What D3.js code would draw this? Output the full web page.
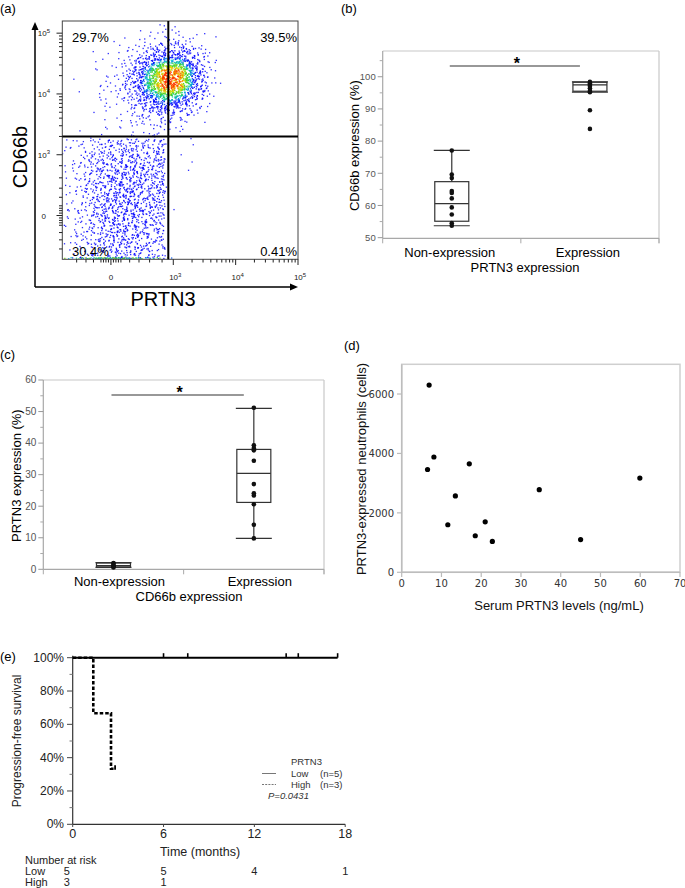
<!DOCTYPE html>
<html><head><meta charset="utf-8">
<script src="https://cdn.jsdelivr.net/npm/d3@7"></script>
<style>html,body{margin:0;padding:0;background:#fff}svg{display:block}</style>
</head><body>
<svg id="chart" width="685" height="888"></svg>
<script>
// ---------------- DATA ----------------
const panelLabels = ["(a)", "(b)", "(c)", "(d)", "(e)"];

// (a) flow cytometry: event counts per 0.25-unit display cell (rows top -> bottom, cols left -> right)
const flowX0 = 1.25, flowYTop = 5.25, flowStep = 0.25;
const flowDensity = [
  [0, 0, 0, 0, 0, 1, 3, 2, 1, 0],
  [0, 0, 0, 1, 3, 8, 15, 14, 5, 1],
  [0, 0, 2, 4, 15, 45, 80, 75, 30, 3],
  [0, 1, 4, 10, 40, 130, 200, 190, 70, 5],
  [0, 2, 5, 12, 45, 140, 210, 190, 65, 4],
  [0, 1, 3, 8, 25, 70, 110, 80, 25, 2],
  [0, 0, 2, 4, 8, 18, 25, 15, 4, 0],
  [0, 2, 3, 4, 6, 8, 7, 2, 0, 0],
  [6, 14, 25, 32, 32, 28, 18, 1, 0, 0],
  [7, 20, 35, 42, 42, 35, 21, 2, 0, 0],
  [7, 21, 38, 49, 49, 38, 21, 1, 0, 0],
  [7, 21, 42, 52, 52, 38, 20, 1, 0, 0],
  [8, 21, 42, 52, 49, 35, 18, 1, 0, 0],
  [7, 20, 38, 49, 45, 32, 15, 0, 0, 0],
  [7, 18, 35, 45, 38, 28, 14, 0, 0, 0],
  [6, 14, 32, 42, 35, 25, 10, 0, 0, 0]
];
const flowFloor = [6, 14, 22, 22, 14, 8, 4, 0, 0, 0];   // events piled on the lower edge
const flowLowerRow = 8;          // first row of the CD66b-negative population
const flowGateX = 2.92, flowGateY = 3.30;
const flowLowerMaxX = 2.87;
const flowTickVals = [2, 3, 4, 5];
const flowTickExp = [null, 3, 4, 5];
const flowNearZeroTicks = [1.45, 1.6, 1.72, 1.84, 1.88, 1.92, 1.96, 2.04, 2.08, 2.12, 2.16, 2.3, 2.45, 2.62, 2.82];
const quadrantLabels = ["29.7%", "39.5%", "30.4%", "0.41%"];

// (b) CD66b expression by PRTN3 expression
const groupsB = ["Non-expression", "Expression"];
const cd66bNonExpr = [77.1, 69.6, 68.5, 64.5, 63.9, 62.2, 59.4, 57.2, 54.5, 53.7];
const cd66bExpr = [98.4, 97.9, 97.5, 97.1, 96.4, 95.6, 95.2, 89.6, 83.8];
const boxStatsB = [[53.7, 55.1, 60.6, 67.4, 77.1], [95.2, 95.5, 97.5, 98.3, 98.4]]; // lo, q1, med, q3, hi
const ticksB = [50, 60, 70, 80, 90, 100];
const minorB = [55, 65, 75, 85, 95, 105];

// (c) PRTN3 expression by CD66b expression
const groupsC = ["Non-expression", "Expression"];
const prtn3NonExpr = [2.0, 1.8, 1.3, 1.0, 0.8, 0.6];
const prtn3Expr = [51.2, 39.3, 38.4, 37.7, 34.4, 27.0, 24.1, 23.4, 20.6, 14.1, 9.8];
const boxStatsC = [[0.6, 0.75, 1.15, 2.0, 2.1], [9.8, 21.2, 30.4, 38.0, 51.0]];
const ticksC = [0, 10, 20, 30, 40, 50, 60];
const minorC = [5, 15, 25, 35, 45, 55];

// (d) serum PRTN3 vs PRTN3-expressed neutrophils
const serumPRTN3 = [6.9, 8.1, 6.5, 17.0, 13.5, 11.6, 21.0, 18.5, 22.8, 34.6, 45.0, 59.9];
const neutroCells = [6300, 3880, 3460, 3650, 2570, 1600, 1700, 1230, 1040, 2780, 1100, 3170];
const ticksDx = [0, 10, 20, 30, 40, 50, 60, 70];
const ticksDy = [0, 2000, 4000, 6000];

// (e) Kaplan-Meier
const kmLowTimes = [0, 17.5];
const kmLowSurv = [1, 1];
const kmLowCensor = [6.0, 7.6, 14.1, 14.9, 17.5];
const kmHighTimes = [0, 1.36, 2.53];
const kmHighSurv = [1, 0.667, 0.333];
const kmHighEnd = 2.8;
const kmHighCensor = [2.8];
const ticksEx = [0, 6, 12, 18];
const ticksEy = [0, 0.2, 0.4, 0.6, 0.8, 1.0];
const minorEy = [0.1, 0.3, 0.5, 0.7, 0.9];
const legendE = ["Low", "High"];
const legendN = ["(n=5)", "(n=3)"];
const pValue = "P=0.0431";
const riskTimes = [0, 6, 12, 18];
const riskLow = [5, 5, 4, 1];
const riskHigh = [3, 1, null, null];

// ---------------- DRAW ----------------
const svg = d3.select("#chart");
svg.append("rect").attr("width", 685).attr("height", 888).attr("fill", "#fff");
const F = "'Liberation Sans', Arial, Helvetica, sans-serif";
const FN = "'Liberation Sans Narrow', 'Arial Narrow', 'Liberation Sans', Arial, sans-serif";
const FD = "'DejaVu Sans', Verdana, sans-serif";

function text(g, x, y, s, o = {}) {
  const t = g.append("text").attr("x", x).attr("y", y).text(s)
    .attr("font-family", o.ff || F).attr("font-size", o.fs || 13)
    .attr("fill", o.fill || "#000").attr("text-anchor", o.anchor || "start");
  if (o.rot) t.attr("transform", `rotate(${o.rot},${x},${y})`);
  if (o.style) t.attr("font-style", o.style);
  if (o.weight) t.attr("font-weight", o.weight);
  return t;
}

// panel labels
const plPos = [[0, 13], [341, 13], [0, 359], [344, 350], [0, 661]];
panelLabels.forEach((l, i) => text(svg, plPos[i][0], plPos[i][1], l, { fs: 13 }));

// ===== (a) =====
(function () {
  const g = svg.append("g");
  const xA = d3.scaleLinear().domain([1.22, 5.0]).range([62.3, 298]);
  const yA = d3.scaleLinear().domain([1.28, 5.2]).range([259.3, 21]);
  g.append("clipPath").attr("id", "clipA").append("rect")
    .attr("x", 62.3).attr("y", 21).attr("width", 298 - 62.3).attr("height", 259.3 - 21);

  const rows = flowDensity.length, cols = flowDensity[0].length;
  function halton(i, b) { let f = 1, r = 0; while (i > 0) { f /= b; r += f * (i % b); i = Math.floor(i / b); } return r; }
  function dens(x, y) {
    const fx = (x - flowX0) / flowStep - 0.5, fy = (flowYTop - y) / flowStep - 0.5;
    const i0 = Math.floor(fx), j0 = Math.floor(fy), tx = fx - i0, ty = fy - j0;
    const gv = (j, i) => (j < 0 || j >= rows || i < 0 || i >= cols) ? 0 : flowDensity[j][i];
    return (1 - ty) * ((1 - tx) * gv(j0, i0) + tx * gv(j0, i0 + 1)) + ty * ((1 - tx) * gv(j0 + 1, i0) + tx * gv(j0 + 1, i0 + 1));
  }
  const pts = [];
  let n = 1;
  flowDensity.forEach((row, r) => row.forEach((cnt, c) => {
    for (let k = 0; k < cnt; k++, n++) {
      // triangular kernel over two cells -> smooth, band-free density
      let x = flowX0 + (c - 0.5 + halton(n, 2) + halton(n, 5)) * flowStep;
      let y = flowYTop - (r - 0.5 + halton(n, 3) + halton(n, 7)) * flowStep;
      if (r >= flowLowerRow && c <= 6) {
        const lim = flowGateY - 0.04;
        if (y > lim) y = 2 * lim - y;
        if (x > flowLowerMaxX) x = 2 * flowLowerMaxX - x;
      }
      pts.push({ x, y, d: dens(x, y) + (halton(n, 11) - 0.5) * 40 });
    }
  }));
  flowFloor.forEach((cnt, c) => {
    for (let k = 0; k < cnt; k++, n++) {
      const x = flowX0 + (c + halton(n, 2)) * flowStep;
      const y = 1.285 + 0.025 * halton(n, 3);
      pts.push({ x, y, d: 90 + halton(n, 5) * 80 });
    }
  });
  pts.sort((a, b) => a.d - b.d);
  const col = d3.scaleLinear().domain([0, 95, 120, 150, 180, 210])
    .range(["#1a1aff", "#0000ff", "#00c8e0", "#30d020", "#f0e000", "#ff2a00"]).clamp(true);
  g.append("g").attr("clip-path", "url(#clipA)").selectAll("rect").data(pts).join("rect")
    .attr("x", d => xA(d.x) - 0.65).attr("y", d => yA(d.y) - 0.65)
    .attr("width", 1.3).attr("height", 1.3)
    .attr("fill", d => col(d.d)).attr("fill-opacity", 0.9);

  // frame
  g.append("rect").attr("x", 62.3).attr("y", 21).attr("width", 298 - 62.3).attr("height", 259.3 - 21)
    .attr("fill", "none").attr("stroke", "#444").attr("stroke-width", 1);
  // gates
  g.append("line").attr("x1", xA(flowGateX)).attr("x2", xA(flowGateX)).attr("y1", 21).attr("y2", 259.3)
    .attr("stroke", "#000").attr("stroke-width", 2);
  g.append("line").attr("x1", 62.3).attr("x2", 298).attr("y1", yA(flowGateY)).attr("y2", yA(flowGateY))
    .attr("stroke", "#000").attr("stroke-width", 2);

  // ticks
  const minor = [];
  [3, 4].forEach(b => { for (let k = 2; k <= 9; k++) minor.push(b + Math.log10(k)); });
  const allMinor = minor.concat(flowNearZeroTicks);
  const tg = g.append("g").attr("stroke", "#222").attr("stroke-width", 1);
  allMinor.filter(v => v >= 1.28 && v <= 5.2).forEach(v => {
    tg.append("line").attr("x1", 59).attr("x2", 62.3).attr("y1", yA(v)).attr("y2", yA(v));
  });
  allMinor.filter(v => v >= 1.22 && v <= 5.0).forEach(v => {
    tg.append("line").attr("y1", 259.3).attr("y2", 262.5).attr("x1", xA(v)).attr("x2", xA(v));
  });
  flowTickVals.forEach(v => {
    tg.append("line").attr("x1", 56.5).attr("x2", 62.3).attr("y1", yA(v)).attr("y2", yA(v));
    tg.append("line").attr("y1", 259.3).attr("y2", 265).attr("x1", xA(v)).attr("x2", xA(v));
  });
  function expLabel(x, y, e, anchor) {
    const t = g.append("text").attr("x", x).attr("y", y).attr("font-family", F)
      .attr("font-size", 8).attr("fill", "#222").attr("text-anchor", anchor);
    if (e === null) { t.text("0"); return; }
    t.append("tspan").text("10");
    t.append("tspan").attr("dy", -3.5).attr("font-size", 6).text(e);
  }
  flowTickVals.forEach((v, i) => {
    expLabel(flowTickExp[i] === null ? 46 : 50, yA(v) + 3, flowTickExp[i], "end");
    expLabel(xA(v) + (flowTickExp[i] === null ? 0 : 2), 280, flowTickExp[i], "middle");
  });

  // quadrant labels
  text(g, 72, 42, quadrantLabels[0], { fs: 13 });
  text(g, 297, 42, quadrantLabels[1], { fs: 13, anchor: "end" });
  text(g, 72, 256, quadrantLabels[2], { fs: 13 });
  text(g, 297, 256, quadrantLabels[3], { fs: 13, anchor: "end" });

  // outer axes with arrows
  g.append("path").attr("d", "M35,287 V28 M35,287 H292").attr("stroke", "#000").attr("stroke-width", 1.5).attr("fill", "none");
  g.append("path").attr("d", "M35,22 L31.5,30 L38.5,30 Z").attr("fill", "#000");
  g.append("path").attr("d", "M298,287 L290,283.5 L290,290.5 Z").attr("fill", "#000");
  text(g, 27, 157, "CD66b", { fs: 20, anchor: "middle", rot: -90 });
  text(g, 163, 306, "PRTN3", { fs: 20, anchor: "middle" });
})();

// ===== box panels (b), (c) =====
function boxPanel(cfg) {
  const g = svg.append("g");
  const x = d3.scaleBand().domain(cfg.groups).range([cfg.x0, cfg.x1]);
  const y = d3.scaleLinear().domain(cfg.domain).range([cfg.y0, cfg.y1]);
  g.append("line").attr("x1", cfg.x0).attr("x2", cfg.x1).attr("y1", cfg.y1).attr("y2", cfg.y1).attr("stroke", "#c8c8c8").attr("stroke-width", 1.2);
  g.append("line").attr("x1", cfg.x1).attr("x2", cfg.x1).attr("y1", cfg.y1).attr("y2", cfg.y0 + 5).attr("stroke", "#c8c8c8").attr("stroke-width", 1.2);
  g.append("line").attr("x1", cfg.x0).attr("x2", cfg.x0).attr("y1", cfg.y1).attr("y2", cfg.y0).attr("stroke", "#a8a8a8").attr("stroke-width", 1.2);
  g.append("line").attr("x1", cfg.x0).attr("x2", cfg.x1).attr("y1", cfg.y0).attr("y2", cfg.y0).attr("stroke", "#a8a8a8").attr("stroke-width", 1.2);
  [cfg.x0, x(cfg.groups[1]), cfg.x1].forEach(v => g.append("line").attr("x1", v).attr("x2", v).attr("y1", cfg.y0).attr("y2", cfg.y0 + 5).attr("stroke", "#a8a8a8"));
  cfg.ticks.forEach(v => {
    g.append("line").attr("x1", cfg.x0 - 5).attr("x2", cfg.x0).attr("y1", y(v)).attr("y2", y(v)).attr("stroke", "#999");
    text(g, cfg.x0 - 7, y(v) + 3.3, v, { fs: cfg.tickFs, fill: "#555", anchor: "end" });
  });
  cfg.minor.forEach(v => g.append("line").attr("x1", cfg.x0 - 3).attr("x2", cfg.x0).attr("y1", y(v)).attr("y2", y(v)).attr("stroke", "#aaa"));
  const bw = 34;
  cfg.stats.forEach((s, i) => {
    const cx = x(cfg.groups[i]) + x.bandwidth() / 2;
    const [lo, q1, med, q3, hi] = s;
    const bg = g.append("g").attr("stroke", "#333").attr("stroke-width", 1.2).attr("fill", "none");
    bg.append("line").attr("x1", cx).attr("x2", cx).attr("y1", y(hi)).attr("y2", y(q3));
    bg.append("line").attr("x1", cx).attr("x2", cx).attr("y1", y(q1)).attr("y2", y(lo));
    bg.append("rect").attr("x", cx - bw / 2).attr("y", y(q3)).attr("width", bw).attr("height", Math.max(0.1, y(q1) - y(q3)));
    bg.append("line").attr("x1", cx - bw / 2).attr("x2", cx + bw / 2).attr("y1", y(med)).attr("y2", y(med));
    bg.append("line").attr("x1", cx - bw / 2 - 1).attr("x2", cx + bw / 2 + 1).attr("y1", y(hi)).attr("y2", y(hi));
    bg.append("line").attr("x1", cx - bw / 2 - 1).attr("x2", cx + bw / 2 + 1).attr("y1", y(lo)).attr("y2", y(lo));
    g.append("g").selectAll("circle").data(cfg.values[i]).join("circle")
      .attr("cx", cx).attr("cy", d => y(d)).attr("r", 2.3).attr("fill", "#111");
    text(g, cx + cfg.labelDx, cfg.catY, cfg.groups[i], { fs: 13, anchor: "middle" });
  });
  const c0 = x(cfg.groups[0]) + x.bandwidth() / 2, c1 = x(cfg.groups[1]) + x.bandwidth() / 2;
  g.append("line").attr("x1", c0 - 2).attr("x2", c1 - 10).attr("y1", cfg.sigY).attr("y2", cfg.sigY).attr("stroke", "#333").attr("stroke-width", 1.2);
  text(g, (c0 + c1) / 2 - 4, cfg.sigY + 3, "*", { fs: 16, anchor: "middle", weight: "bold" });
  text(g, cfg.xlabX, cfg.xlabY, cfg.xlab, { fs: 13, anchor: "middle" });
  text(g, cfg.ylabX, (cfg.y0 + cfg.y1) / 2 + 1, cfg.ylab, { fs: 13, anchor: "middle", rot: -90 });
}

boxPanel({
  groups: groupsB, values: [cd66bNonExpr, cd66bExpr], stats: boxStatsB,
  x0: 382.7, x1: 659, y0: 238.3, y1: 51, domain: [49.8, 108],
  ticks: ticksB, minor: minorB, tickFs: 9.5, catY: 257, labelDx: -2,
  sigY: 66, xlab: "PRTN3 expression", xlabX: 525, xlabY: 272,
  ylab: "CD66b expression (%)", ylabX: 359
});
boxPanel({
  groups: groupsC, values: [prtn3NonExpr, prtn3Expr], stats: boxStatsC,
  x0: 43.3, x1: 324, y0: 569.3, y1: 380, domain: [0, 60],
  ticks: ticksC, minor: minorC, tickFs: 10, catY: 586, labelDx: 6,
  sigY: 395, xlab: "CD66b expression", xlabX: 189, xlabY: 601,
  ylab: "PRTN3 expression (%)", ylabX: 21
});

// ===== (d) =====
(function () {
  const g = svg.append("g");
  const x = d3.scaleLinear().domain([0, 70]).range([401.7, 680]);
  const y = d3.scaleLinear().domain([0, 7000]).range([572.3, 364.3]);
  g.append("rect").attr("x", 401.7).attr("y", 364.3).attr("width", 680 - 401.7).attr("height", 572.3 - 364.3)
    .attr("fill", "none").attr("stroke", "#cfcfcf").attr("stroke-width", 1.5);
  g.append("line").attr("x1", 401.7).attr("x2", 401.7).attr("y1", 364.3).attr("y2", 572.3).attr("stroke", "#bdbdbd").attr("stroke-width", 1.5);
  g.append("line").attr("x1", 401.7).attr("x2", 680).attr("y1", 572.3).attr("y2", 572.3).attr("stroke", "#bdbdbd").attr("stroke-width", 1.5);
  ticksDx.forEach(v => {
    g.append("line").attr("x1", x(v)).attr("x2", x(v)).attr("y1", 572.3).attr("y2", 577).attr("stroke", "#bbb").attr("stroke-width", 1.2);
    text(g, x(v), 587, v, { ff: FD, fs: 10, fill: "#333", anchor: "middle" });
  });
  ticksDy.forEach(v => {
    g.append("line").attr("x1", 397).attr("x2", 401.7).attr("y1", y(v)).attr("y2", y(v)).attr("stroke", "#bbb").attr("stroke-width", 1.2);
    text(g, 394, y(v) + 3.8, v, { ff: FD, fs: 10, fill: "#333", anchor: "end" });
  });
  g.selectAll("circle").data(serumPRTN3).join("circle")
    .attr("cx", d => x(d)).attr("cy", (d, i) => y(neutroCells[i])).attr("r", 2.6).attr("fill", "#000");
  text(g, 559, 610, "Serum PRTN3 levels (ng/mL)", { fs: 13, fill: "#111", anchor: "middle" });
  text(g, 366, 469, "PRTN3-expressed neutrophils (cells)", { fs: 13, fill: "#111", anchor: "middle", rot: -90 });
})();

// ===== (e) =====
(function () {
  const g = svg.append("g");
  const x = d3.scaleLinear().domain([0, 18]).range([72.7, 345.2]);
  const y = d3.scaleLinear().domain([0, 1]).range([824.3, 657.7]);
  g.append("line").attr("x1", 72.7).attr("x2", 72.7).attr("y1", y(1) - 2).attr("y2", 824.3).attr("stroke", "#333").attr("stroke-width", 1.2);
  g.append("line").attr("x1", 72.7).attr("x2", 345.2).attr("y1", 824.3).attr("y2", 824.3).attr("stroke", "#333").attr("stroke-width", 1.2);
  ticksEy.forEach(v => {
    g.append("line").attr("x1", 67).attr("x2", 72.7).attr("y1", y(v)).attr("y2", y(v)).attr("stroke", "#444");
    text(g, 64, y(v) + 4, Math.round(v * 100) + "%", { ff: FN, fs: 12, fill: "#222", anchor: "end" });
  });
  minorEy.forEach(v => g.append("line").attr("x1", 69.5).attr("x2", 72.7).attr("y1", y(v)).attr("y2", y(v)).attr("stroke", "#777"));
  ticksEx.forEach(v => {
    g.append("line").attr("x1", x(v)).attr("x2", x(v)).attr("y1", 824.3).attr("y2", 827).attr("stroke", "#444");
    text(g, x(v), 838, v, { ff: FN, fs: 12.5, fill: "#222", anchor: "middle" });
  });
  const step = d3.line().x(d => x(d[0])).y(d => y(d[1])).curve(d3.curveStepAfter);
  g.append("path").attr("d", step(kmLowTimes.map((t, i) => [t, kmLowSurv[i]])))
    .attr("fill", "none").attr("stroke", "#000").attr("stroke-width", 2);
  kmLowCensor.forEach(t => g.append("line").attr("x1", x(t)).attr("x2", x(t)).attr("y1", y(1)).attr("y2", y(1) - 4.5)
    .attr("stroke", "#000").attr("stroke-width", 1.6));
  const hp = kmHighTimes.map((t, i) => [t, kmHighSurv[i]]);
  hp.push([kmHighEnd, kmHighSurv[kmHighSurv.length - 1]]);
  g.append("path").attr("d", step(hp))
    .attr("fill", "none").attr("stroke", "#000").attr("stroke-width", 2.6).attr("stroke-dasharray", "3.5,2");
  kmHighCensor.forEach(t => g.append("line").attr("x1", x(t)).attr("x2", x(t))
    .attr("y1", y(kmHighSurv[kmHighSurv.length - 1]) + 1).attr("y2", y(kmHighSurv[kmHighSurv.length - 1]) - 3.5)
    .attr("stroke", "#000").attr("stroke-width", 1.8));
  text(g, 291, 765, "PRTN3", { ff: FN, fs: 9.5, fill: "#333" });
  legendE.forEach((l, i) => {
    const yy = 777 + i * 11;
    g.append("line").attr("x1", 262).attr("x2", 276).attr("y1", yy - 3.5).attr("y2", yy - 3.5)
      .attr("stroke", "#777").attr("stroke-width", 1).attr("stroke-dasharray", i ? "2,1.2" : null);
    text(g, 291, yy, l, { ff: FN, fs: 9.5, fill: "#333" });
    text(g, 320, yy, legendN[i], { ff: FN, fs: 9.5, fill: "#333" });
  });
  text(g, 268, 799, pValue, { ff: FN, fs: 9.5, fill: "#333", style: "italic" });
  text(g, 21, 741, "Progression-free survival", { ff: FN, fs: 12, fill: "#222", anchor: "middle", rot: -90 });
  text(g, 200, 856, "Time (months)", { ff: FN, fs: 12.5, fill: "#222", anchor: "middle" });
  const rf = 11;
  text(g, 25, 864, "Number at risk", { ff: FN, fs: rf, fill: "#222" });
  text(g, 25, 875, "Low", { ff: FN, fs: rf, fill: "#222" });
  text(g, 25, 885.5, "High", { ff: FN, fs: rf, fill: "#222" });
  riskTimes.forEach((t, i) => {
    if (riskLow[i] !== null) text(g, x(t) - (t === 0 ? 6 : 0), 875, riskLow[i], { ff: FN, fs: rf, fill: "#222", anchor: "middle" });
    if (riskHigh[i] !== null) text(g, x(t) - (t === 0 ? 6 : 0), 885.5, riskHigh[i], { ff: FN, fs: rf, fill: "#222", anchor: "middle" });
  });
})();
</script>
</body></html>
